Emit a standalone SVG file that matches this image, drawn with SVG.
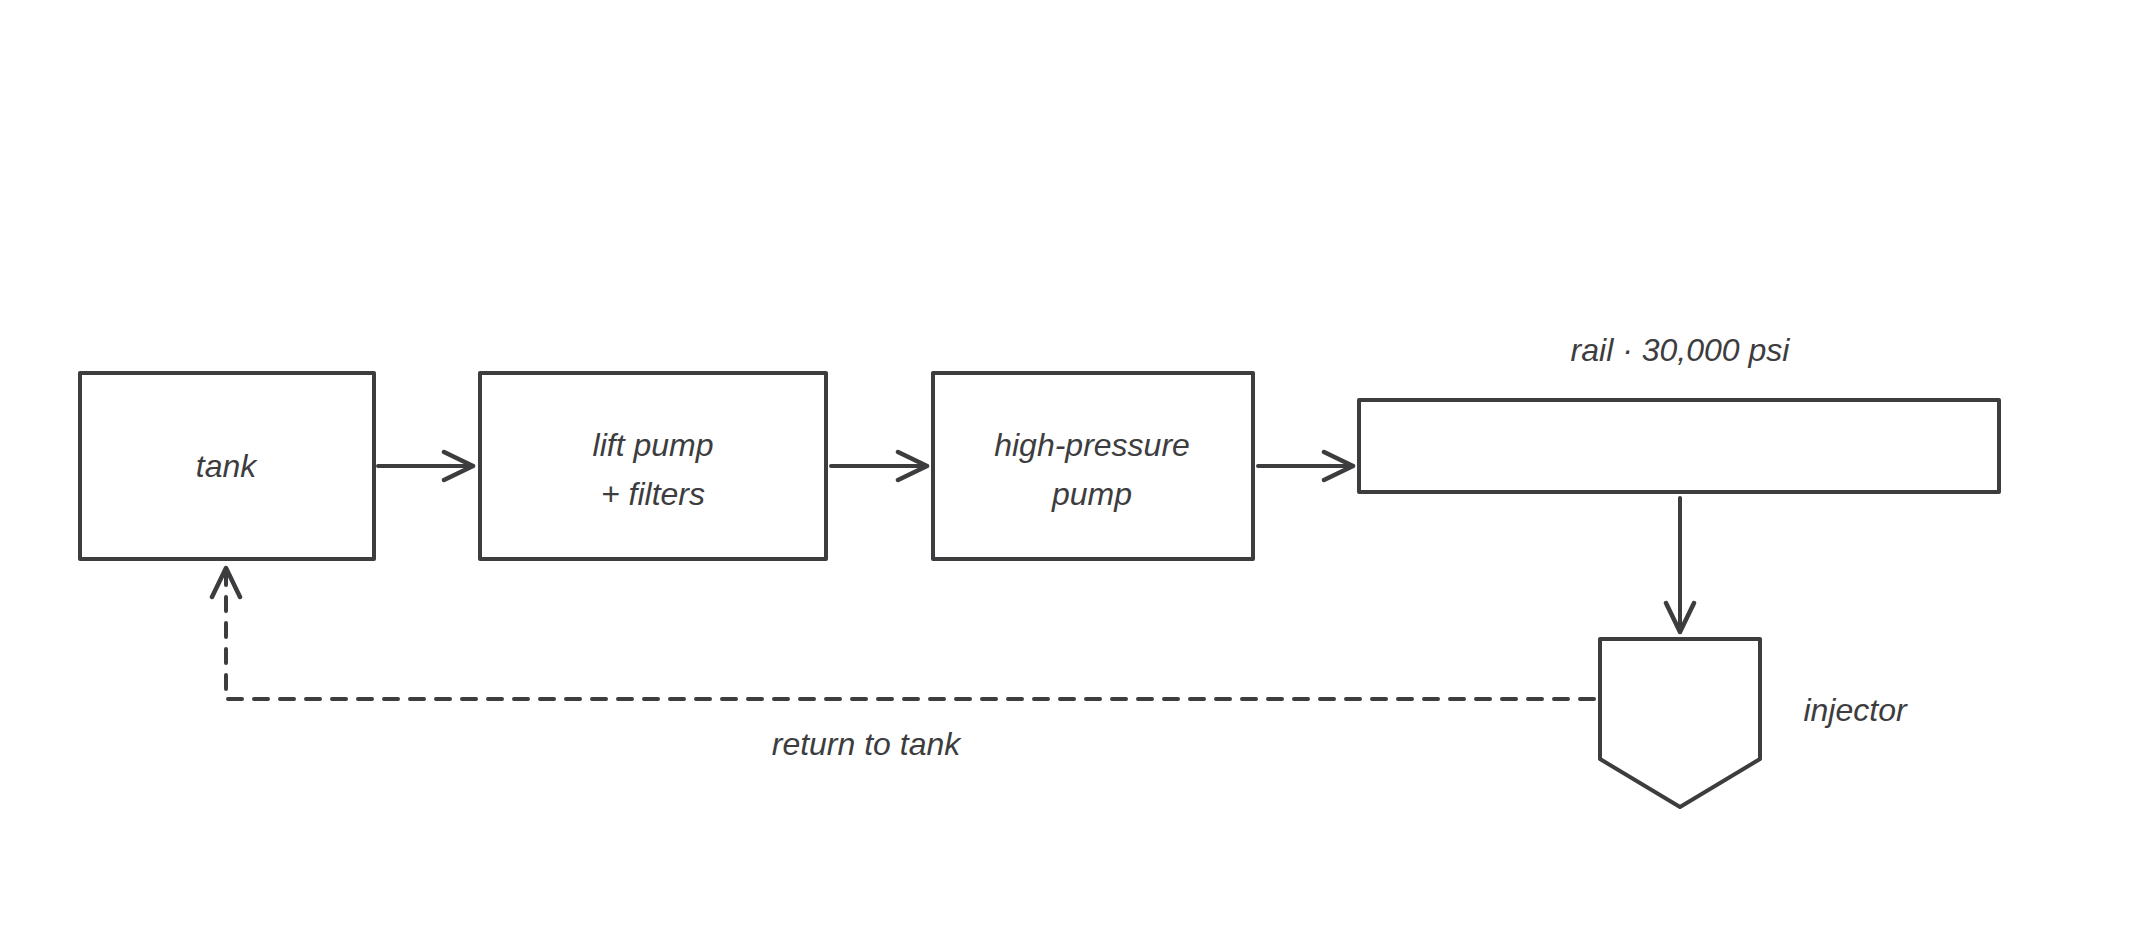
<svg xmlns="http://www.w3.org/2000/svg" width="2133" height="933" viewBox="0 0 2133 933">
<style>
.n{fill:#fff;stroke:#3d3d40;stroke-width:4;stroke-linejoin:round}
.c{fill:none;stroke:#3d3d40;stroke-width:4;stroke-linecap:round}
.d{stroke-dasharray:14 12}
text{font-family:"Liberation Sans",sans-serif;font-style:italic;font-size:32px;fill:#3d3d40;text-anchor:middle}
</style>
<defs>
<marker id="b" viewBox="0 0 36 36" refX="33" refY="18" markerWidth="36" markerHeight="36" markerUnits="userSpaceOnUse" orient="auto"><path d="M4 4 L33 18 L4 32" fill="none" stroke="#3d3d40" stroke-width="4.5" stroke-linecap="round" stroke-linejoin="round"/></marker></defs>
<g id="tank"><rect class="n" x="80" y="373" width="294" height="186"/><text x="226" y="477">tank</text></g>
<g id="lift"><rect class="n" x="480" y="373" width="346" height="186"/><text x="653" y="456">lift pump</text><text x="653" y="505">+ filters</text></g>
<g id="hp"><rect class="n" x="933" y="373" width="320" height="186"/><text x="1092" y="456">high-pressure</text><text x="1092" y="505">pump</text></g>
<g id="rail"><rect class="n" x="1359" y="400" width="640" height="92"/><text x="1680" y="361">rail · 30,000 psi</text></g>
<g id="injector"><path class="n" d="M1600 639 H1760 V759 L1680 807 L1600 759 Z"/><text x="1855" y="721">injector</text></g>
<g id="connectors">
<line class="c" x1="378" y1="466" x2="473" y2="466" marker-end="url(#b)"/>
<line class="c" x1="831" y1="466" x2="927" y2="466" marker-end="url(#b)"/>
<line class="c" x1="1258" y1="466" x2="1353" y2="466" marker-end="url(#b)"/>
<line class="c" x1="1680" y1="498" x2="1680" y2="632" marker-end="url(#b)"/>
<path class="c d" d="M1594 699 H226 V568" marker-end="url(#b)"/>
<text x="866" y="755">return to tank</text>
</g>
</svg>
